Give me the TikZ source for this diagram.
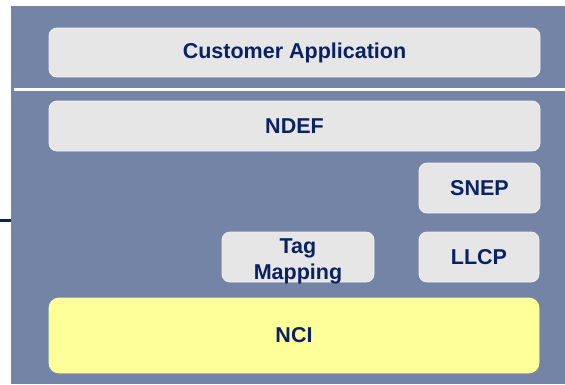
\documentclass[tikz,border=0pt]{standalone}
\usepackage{fontspec}
\setmainfont{Liberation Sans}
\definecolor{panelblue}{RGB}{115,132,166}
\definecolor{boxgray}{RGB}{230,230,230}
\definecolor{ncifill}{RGB}{255,255,153}
\definecolor{navytext}{RGB}{10,34,98}
\begin{document}
\begin{tikzpicture}[x=1pt,y=-1pt,
  labeltext/.style={align=center,text=navytext,font=\fontsize{21.5}{26}\selectfont\bfseries},
  layer/.style={labeltext,fill=boxgray,draw=boxgray!60!white,line width=0.8pt,
    rounded corners=8pt,inner sep=0pt},
  ncibox/.style={layer,fill=ncifill,draw=ncifill,rounded corners=10pt}]
\useasboundingbox (0,0) rectangle (565,384);

\node (panel) [fill=panelblue,inner sep=0pt,minimum width=554pt,minimum height=378pt] at (288,195) {};

\draw[white,line width=3pt] (14,89.5) -- (panel.east |- 0,89.5);

\node (app) [layer,minimum width=491pt,minimum height=49pt] at (294.5,52.5) {Customer Application};
\node (ndef) [layer,minimum width=491pt,minimum height=50pt] at (294.5,126) {NDEF};
\node (snep) [layer,minimum width=121pt,minimum height=50pt] at (479.5,188) {SNEP};
\node (tagmap) [layer,minimum width=152pt,minimum height=50pt] at (298,257) {};
\node (tagtext) at ([yshift=-4pt]tagmap.center) [labeltext] {Tag\\Mapping};
\node (llcp) [layer,minimum width=120pt,minimum height=50pt] at (479,257) {LLCP};
\node (nci) [ncibox,minimum width=490pt,minimum height=75pt] at (294,335.5) {NCI};

\coordinate (stub) at (0,220.5);
\draw[navytext,line width=2.5pt] (stub) -- (stub -| panel.west);
\end{tikzpicture}
\end{document}
